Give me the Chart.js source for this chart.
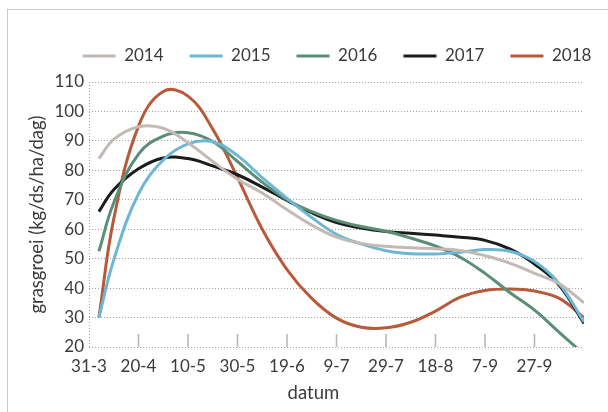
<!DOCTYPE html>
<html>
<head>
<meta charset="utf-8">
<script src="https://cdn.jsdelivr.net/npm/chart.js@4.4.0/dist/chart.umd.min.js"></script>
<style>
  body { margin: 0; background: #fff; }
  #wrap { position: relative; width: 608px; height: 412px; overflow: hidden; }
  #frame { position: absolute; left: 7px; top: 9px; width: 700px; height: 500px;
           border-left: 1px solid #c9c9c9; border-top: 1px solid #c9c9c9; }
  canvas { position: absolute; left: 0; top: 0; }
</style>
</head>
<body>
<div id="wrap">
  <div id="frame"></div>
  <canvas id="grasChart" width="608" height="412"></canvas>
</div>
<script>
// dagen na 31-3
const days = [4, 10, 20, 30, 40, 50, 60, 70, 80, 90, 100, 110, 120, 130, 140, 150, 160, 170, 180, 190, 200];

// as-labels, elke 20 dagen
const xLabels = ['31-3', '20-4', '10-5', '30-5', '19-6', '9-7', '29-7', '18-8', '7-9', '27-9', ''];

// grasgroei per jaar (kg ds/ha/dag)
const groei2014 = [84, 90.5, 94.8, 94.3, 89.4, 83, 77, 72.3, 66.6, 61.4, 57.3, 55.2, 54.2, 53.7, 53.4, 52.8, 51, 48.5, 45, 41.5, 35];
const groei2015 = [30, 49.6, 72, 83.5, 89, 89.7, 85, 77.5, 70.5, 64, 58.3, 55, 52.7, 51.7, 51.6, 52.2, 53.1, 52.5, 49, 41.5, 28.5];
const groei2016 = [52.5, 69, 85.5, 91.6, 92.8, 89.8, 83, 76, 70, 66, 63, 60.9, 59.3, 57, 54.3, 50.5, 45, 38.5, 32.5, 25, 17.5];
const groei2017 = [66, 73.4, 80.5, 84.2, 84, 81.5, 78.5, 74.3, 69.8, 65.6, 62.3, 60.4, 59.2, 58.6, 58, 57.3, 56.2, 53.3, 48.2, 41, 28];
const groei2018 = [30, 63.5, 95, 106.8, 105.2, 94, 77.5, 60, 46.3, 36.5, 29.8, 26.7, 26.5, 28.4, 32.2, 36.9, 39.2, 39.7, 39, 36.5, 30];

const jaren = ['2014', '2015', '2016', '2017', '2018'];
const kleuren = ['#c3bab5', '#6db6d4', '#5b8e76', '#1c1c1c', '#b85a3a'];
const reeksen = [groei2014, groei2015, groei2016, groei2017, groei2018];

const fontFam = 'Lato, "Noto Sans", sans-serif';
const tekstKleur = '#3b3b3b';
const gridKleur = '#a3a3a3';

// korte streepjes omhoog vanaf de x-as
const tickMarks = {
  id: 'tickMarks',
  afterDraw(chart) {
    const x = chart.scales.x;
    const bottom = chart.chartArea.bottom;
    const c = chart.ctx;
    c.save();
    c.strokeStyle = '#b5b5b5';
    c.lineWidth = 1.5;
    x.ticks.forEach((t) => {
      if (t.value <= 0 || t.value >= 200) return;
      const px = x.getPixelForValue(t.value);
      c.beginPath();
      c.moveTo(px, bottom);
      c.lineTo(px, bottom - 13);
      c.stroke();
    });
    c.restore();
  }
};

// legenda: alles op een regel, vaste hoogte, midden op het plotgebied
const legendFix = {
  id: 'legendFix',
  beforeInit(chart) {
    const fit = chart.legend.fit;
    chart.legend.fit = function () {
      this.maxWidth = 700;
      fit.bind(chart.legend)();
      this.width = 584;
      this.height = 60.5;
    };
  },
  afterLayout(chart) {
    chart.legend.left = 37;
    chart.legend.right = 637;
  }
};

const ctx = document.getElementById('grasChart');
const chart = new Chart(ctx, {
  type: 'line',
  data: {
    datasets: jaren.map((jaar, i) => ({
      label: jaar,
      data: days.map((d, j) => ({ x: d, y: reeksen[i][j] })),
      borderColor: kleuren[i],
      backgroundColor: kleuren[i],
      borderWidth: 3,
      pointRadius: 0,
      tension: 0.4,
      fill: false
    }))
  },
  options: {
    responsive: false,
    animation: false,
    devicePixelRatio: 1,
    layout: { padding: { left: 0, right: 24, top: 21.5, bottom: 0 } },
    plugins: {
      legend: {
        labels: {
          usePointStyle: true,
          pointStyle: 'line',
          pointStyleWidth: 33,
          color: tekstKleur,
          font: { family: fontFam, size: 17 },
          padding: 26
        }
      },
      tooltip: { enabled: false }
    },
    scales: {
      x: {
        type: 'linear',
        min: 0,
        max: 200,
        afterFit(scale) { scale.height = 65; },
        ticks: {
          stepSize: 20,
          autoSkip: false,
          maxRotation: 0,
          padding: 9,
          color: tekstKleur,
          font: { family: fontFam, size: 17 },
          callback: (v) => xLabels[v / 20]
        },
        // alleen de stippellijn bij 31-3 (linker as)
        grid: {
          drawTicks: false,
          color: (c) => (c.tick && c.tick.value === 0 ? gridKleur : 'rgba(0,0,0,0)')
        },
        border: { display: false, dash: [1, 2] },
        title: {
          display: true,
          text: 'datum\u2002\u2002\u2002\u2002\u2002',
          color: tekstKleur,
          font: { family: fontFam, size: 18.5 },
          padding: { top: 0, bottom: 8 }
        }
      },
      y: {
        min: 20,
        max: 110,
        afterFit(scale) { scale.width = 89; },
        ticks: {
          stepSize: 10,
          padding: 5,
          color: tekstKleur,
          font: { family: fontFam, size: 17 }
        },
        grid: { color: gridKleur, lineWidth: 1, drawTicks: false },
        border: { display: false, dash: [1, 2] },
        title: {
          display: true,
          text: 'grasgroei (kg/ds/ha/dag)',
          color: tekstKleur,
          font: { family: fontFam, size: 18.5 },
          padding: { top: 26, bottom: 0 }
        }
      }
    }
  },
  plugins: [tickMarks, legendFix]
});
</script>
</body>
</html>
